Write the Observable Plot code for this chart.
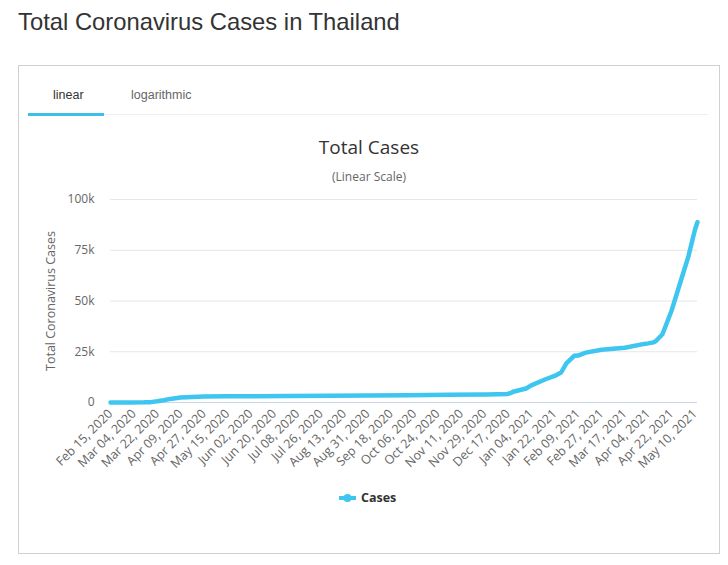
<!DOCTYPE html>
<html>
<head>
<meta charset="utf-8">
<script src="https://cdn.jsdelivr.net/npm/d3@7"></script>
<script src="https://cdn.jsdelivr.net/npm/@observablehq/plot@0.6"></script>
<style>
  html, body { margin: 0; padding: 0; background: #fff; }
  body { width: 728px; height: 565px; position: relative; overflow: hidden; font-family: "Liberation Sans", Arial, sans-serif; }
  .title { position: absolute; left: 18px; top: 8px; font-size: 23.8px; color: #333; white-space: nowrap; }
  .box { position: absolute; left: 18px; top: 65px; width: 702px; height: 489px; border: 1px solid #d0d0d0; box-sizing: border-box; }
  .tab { position: absolute; top: 88px; font-size: 12.5px; white-space: nowrap; }
  .sep { position: absolute; left: 28px; top: 114px; width: 680px; height: 1px; background: #eee; }
  .under { position: absolute; left: 28px; top: 113px; width: 76px; height: 3px; background: #3dbfe9; }
  .ctitle { position: absolute; left: 0; width: 738px; text-align: center; top: 134px; font-family: "Open Sans", sans-serif; font-size: 19px; color: #333; }
  .csub { position: absolute; left: 0; width: 738px; text-align: center; top: 168px; font-family: "Open Sans", sans-serif; font-size: 12px; color: #666; }
  #chart { position: absolute; left: 18px; top: 190px; }
  .legend { position: absolute; left: 339px; top: 489px; font-family: "Open Sans", sans-serif; font-weight: bold; font-size: 12.5px; color: #333; display: flex; align-items: center; gap: 5px; }
</style>
</head>
<body>
<div class="title">Total Coronavirus Cases in Thailand</div>
<div class="box"></div>
<div class="sep"></div>
<div class="under"></div>
<div class="tab" style="left:53px;color:#333;">linear</div>
<div class="tab" style="left:131px;color:#666;">logarithmic</div>
<div class="ctitle">Total Cases</div>
<div class="csub">(Linear Scale)</div>
<div id="chart"></div>
<div class="legend"><svg width="17" height="10"><line x1="0" y1="5" x2="17" y2="5" stroke="#3ec6f0" stroke-width="4"/><circle cx="8.5" cy="5" r="4" fill="#3ec6f0"/></svg><span>Cases</span></div>
<script>
const dates = ["2020-02-15","2020-03-01","2020-03-12","2020-03-17","2020-03-22","2020-03-27","2020-04-01","2020-04-09","2020-04-18","2020-04-27","2020-05-15","2020-06-02","2020-07-01","2020-08-01","2020-09-01","2020-10-01","2020-11-01","2020-12-01","2020-12-17","2020-12-20","2020-12-21","2020-12-31","2021-01-04","2021-01-15","2021-01-22","2021-01-27","2021-01-31","2021-02-06","2021-02-09","2021-02-15","2021-02-27","2021-03-17","2021-04-01","2021-04-04","2021-04-08","2021-04-10","2021-04-15","2021-04-22","2021-04-30","2021-05-05","2021-05-10","2021-05-12"];
const cases = [34,42,70,177,599,1136,1771,2423,2733,2931,3025,3083,3173,3310,3411,3564,3780,3998,4246,4907,5289,6884,8439,11450,13104,14776,19249,23000,23134,24571,25951,26973,28863,29127,29600,30310,33610,45185,61699,72000,85005,88907];
const tickDates = ["2020-02-15","2020-03-04","2020-03-22","2020-04-09","2020-04-27","2020-05-15","2020-06-02","2020-06-20","2020-07-08","2020-07-26","2020-08-13","2020-08-31","2020-09-18","2020-10-06","2020-10-24","2020-11-11","2020-11-29","2020-12-17","2021-01-04","2021-01-22","2021-02-09","2021-02-27","2021-03-17","2021-04-04","2021-04-22","2021-05-10"];
const yTicks = [0, 25000, 50000, 75000, 100000];
const yTickLabels = ["0", "25k", "50k", "75k", "100k"];

const data = dates.map((d, i) => ({date: new Date(d + "T00:00:00Z"), cases: cases[i]}));
const fmt = d3.utcFormat("%b %d, %Y");

const chart = Plot.plot({
  width: 702,
  height: 295,
  marginLeft: 92,
  marginRight: 23,
  marginTop: 9,
  marginBottom: 83,
  style: {fontFamily: "Open Sans, sans-serif", fontSize: "12px", color: "#666", background: "transparent"},
  x: {type: "utc", domain: [new Date("2020-02-15T00:00:00Z"), new Date("2021-05-12T00:00:00Z")]},
  y: {domain: [0, 100000]},
  marks: [
    Plot.gridY(yTicks, {stroke: "#e6e6e6", strokeOpacity: 1}),
    Plot.ruleY([0], {stroke: "#ccd6eb"}),
    Plot.axisY({ticks: yTicks, tickSize: 0, tickPadding: 16, tickFormat: (d) => yTickLabels[yTicks.indexOf(d)], label: null, fill: "#666", fontSize: 12}),
    Plot.text(["Total Coronavirus Cases"], {frameAnchor: "left", dx: -60, dy: 0, rotate: -90, fill: "#666", fontSize: 12.5, textAnchor: "middle"}),
    Plot.axisX({ticks: tickDates.map(d => new Date(d + "T00:00:00Z")), tickSize: 0, tickPadding: 9, tickRotate: -45, tickFormat: fmt, label: null, fill: "#666", fontSize: 12.5, textAnchor: "end"}),
    Plot.line(data, {x: "date", y: "cases", stroke: "#3ec6f0", strokeWidth: 4.5, strokeLinejoin: "round", strokeLinecap: "round"})
  ]
});
document.getElementById("chart").appendChild(chart);
</script>
</body>
</html>
